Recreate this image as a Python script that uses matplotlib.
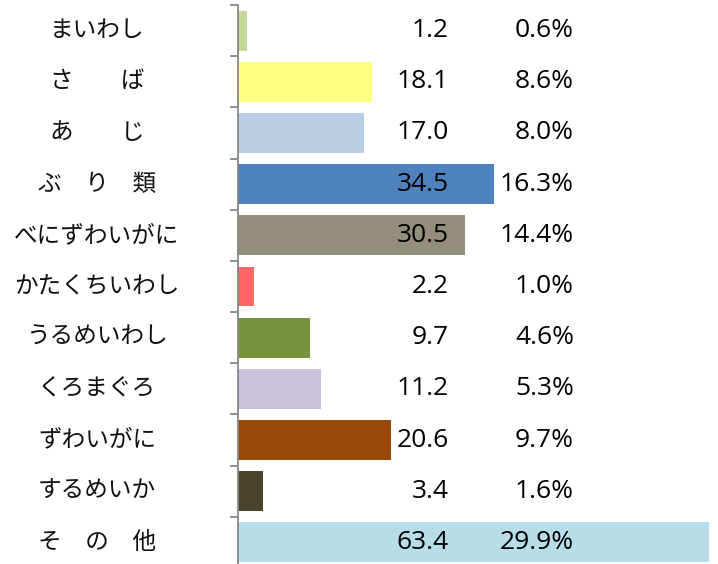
import matplotlib
matplotlib.use("Agg")
import matplotlib.pyplot as plt
import matplotlib.transforms as mtransforms

categories = ["まいわし", "さ　　ば", "あ　　じ", "ぶ　り　類", "べにずわいがに", "かたくちいわし",
              "うるめいわし", "くろまぐろ", "ずわいがに", "するめいか", "そ　の　他"]
values = [1.2, 18.1, 17.0, 34.5, 30.5, 2.2, 9.7, 11.2, 20.6, 3.4, 63.4]
value_labels = ["1.2", "18.1", "17.0", "34.5", "30.5", "2.2", "9.7", "11.2", "20.6", "3.4", "63.4"]
percent_labels = ["0.6%", "8.6%", "8.0%", "16.3%", "14.4%", "1.0%", "4.6%", "5.3%", "9.7%", "1.6%", "29.9%"]
colors = ["#C3D69B", "#FFFF80", "#B9CDE5", "#4F81BD", "#938E7C", "#FF6666",
          "#77933C", "#CCC1DA", "#984807", "#4A452A", "#B7DDE8"]

W, H = 718, 564
fig = plt.figure(figsize=(W / 100, H / 100), dpi=100)
ax = fig.add_axes([238 / W, -4 / H, (709 - 238) / W, 563 / H])

y = list(range(len(categories)))
ax.barh(y, values, height=0.78, color=colors)
ax.set_xlim(0, 63.4)
ax.set_ylim(len(categories) - 0.5, -0.5)

for s in ["top", "right", "bottom"]:
    ax.spines[s].set_visible(False)
ax.spines["left"].set_color("#888888")
ax.spines["left"].set_linewidth(1.3)
ax.set_xticks([])
ax.set_yticks([i - 0.5 for i in range(len(categories) + 1)])
ax.set_yticklabels([])
ax.tick_params(axis="y", length=5.5, width=1.3, color="#888888", direction="out")

trans = mtransforms.blended_transform_factory(ax.transAxes, ax.transData)
jp = ["Noto Sans CJK JP", "DejaVu Sans"]
num = ["Open Sans", "DejaVu Sans"]
for i in y:
    ax.text((97 - 238) / 471, i, categories[i], transform=trans, ha="center", va="center",
            fontsize=17, family=jp, color="#111111")
    ax.text((449 - 238) / 471, i, value_labels[i], transform=trans, ha="right", va="center",
            fontsize=19, family=num, color="#000000")
    ax.text((574 - 238) / 471, i, percent_labels[i], transform=trans, ha="right", va="center",
            fontsize=19, family=num, color="#000000")

fig.savefig("out.png", dpi=100)
